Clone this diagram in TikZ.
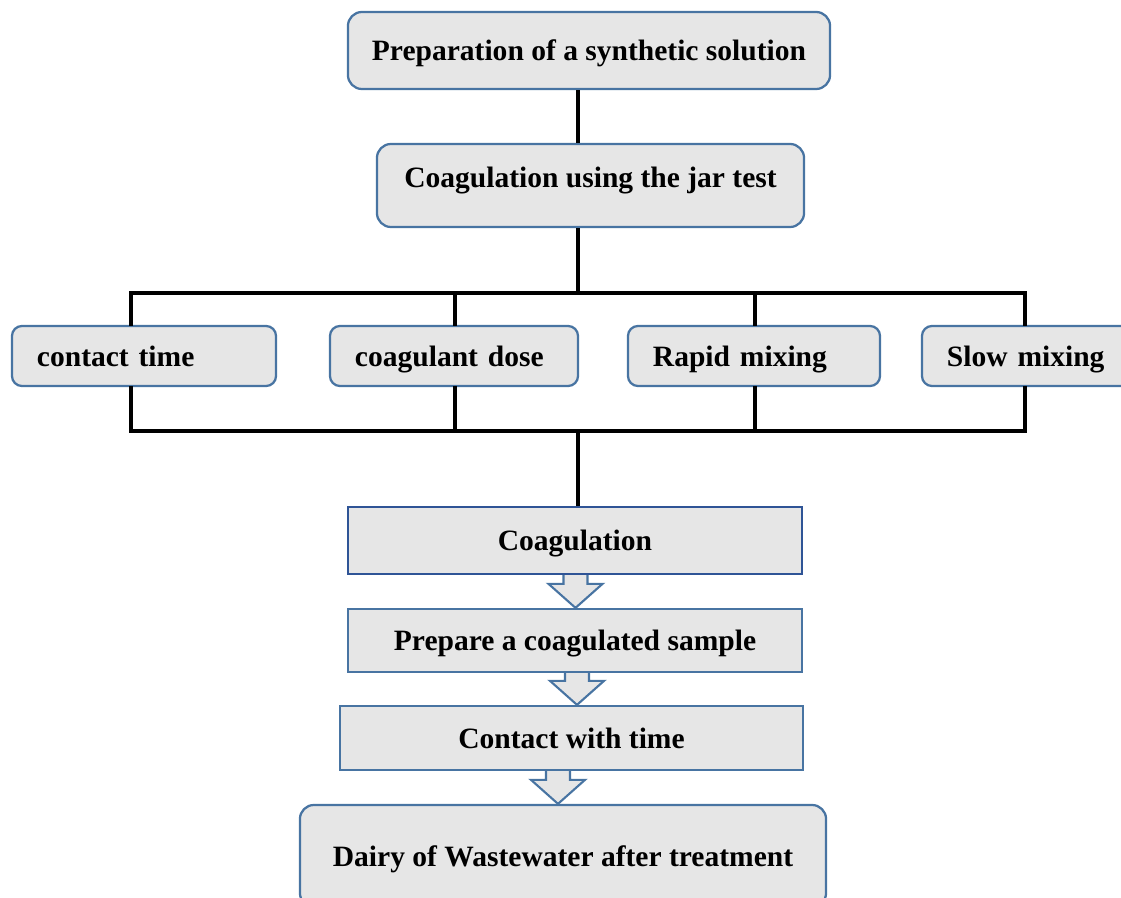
\documentclass[tikz,border=0pt]{standalone}
\usepackage{fontspec}
\setmainfont{Liberation Serif}
\usetikzlibrary{calc, positioning, backgrounds}
\definecolor{boxfill}{RGB}{230,230,230}
\definecolor{boxblue}{RGB}{72,116,162}
\definecolor{darkblue}{RGB}{47,84,150}

\begin{document}
\begin{tikzpicture}[x=0.025cm, y=-0.025cm,
	every node/.style={font=\bfseries\fontsize{21}{24}\selectfont, text height=0.6cm, text depth=0.1cm},
	roundbox/.style={draw=boxblue, fill=boxfill, line width=1.6pt, rounded corners=0.35cm},
	factor/.style={draw=boxblue, fill=boxfill, line width=1.6pt, rounded corners=0.25cm, minimum height=1.5cm, align=left, inner xsep=0.625cm, text height=0.6cm, text depth=0.05cm},
	flatbox/.style={draw=boxblue, fill=boxfill, line width=1.6pt},
	link/.style={black, line width=3.3pt},
	bus/.style={black, line width=2.3pt, line cap=rect},
	harrow/.style={draw=boxblue, fill=boxfill, line width=1.5pt, line join=miter}]
	% page frame
	\useasboundingbox (0,0) rectangle (1121,898);
	\clip (0,0) rectangle (1121,898);

	% first steps
	\node[roundbox, minimum width=12.05cm, minimum height=1.925cm] (prep) at (589,50.5) {Preparation of a synthetic solution};
	\node[roundbox, minimum width=10.675cm, minimum height=2.075cm, text depth=0.475cm] (jar) at (590.5,185.5) {Coagulation using the jar test};

	% jar test factors
	\node[factor, text width=5.35cm] (ct) at (144,356) {contact time};
	\node[factor, text width=4.95cm] (cd) at (454,356) {coagulant dose};
	\node[factor, text width=5.05cm] (rm) at (754,356) {Rapid mixing};
	\node[factor, text width=4.2cm] (sm) at (1031,356) {Slow mixing};

	% following steps
	\node[flatbox, draw=darkblue, minimum width=11.35cm, minimum height=1.675cm] (coag) at (575,540.5) {Coagulation};
	\node[flatbox, minimum width=11.35cm, minimum height=1.575cm] (samp) at (575,640.5) {Prepare a coagulated sample};
	\node[flatbox, minimum width=11.575cm, minimum height=1.6cm] (cwt) at (571.5,738) {Contact with time};
	\node[roundbox, minimum width=13.15cm, minimum height=2.55cm] (dairy) at (563,856) {Dairy of Wastewater after treatment};

	% trunk and buses
	\coordinate (trunk) at (578,0);
	\coordinate (tl) at (131,293);
	\coordinate (tr) at (1025,293);
	\coordinate (bl) at (131,431);
	\coordinate (br) at (1025,431);
	\draw[link] (prep.south -| trunk) -- (jar.north -| trunk);
	\draw[link] (jar.south -| trunk) -- (tl -| trunk);
	\draw[bus] (tl) -- (tr);
	\draw[bus] (bl) -- (br);
	\foreach \n/\x in {ct/131, cd/455, rm/755, sm/1025} {
		\coordinate (d\n) at (\x,0);
		\draw[bus] (tl -| d\n) -- (\n.north -| d\n);
		\draw[bus] (\n.south -| d\n) -- (bl -| d\n);
	}
	\draw[link] (bl -| trunk) -- (coag.north -| trunk);

	% hollow arrows
	\begin{scope}[on background layer]
	\foreach \u/\v/\x in {coag/samp/575.5, samp/cwt/577, cwt/dairy/558} {
		\coordinate (ax) at (\x,0);
		\draw[harrow] ($(\u.south -| ax)+(-12,0)$) -- ($(\v.north -| ax)+(-12,-24)$) -- ++(-15,0) -- (\v.north -| ax)
			-- ($(\v.north -| ax)+(27,-24)$) -- ++(-15,0) -- ($(\u.south -| ax)+(12,0)$);
	}
	\end{scope}
\end{tikzpicture}
\end{document}
